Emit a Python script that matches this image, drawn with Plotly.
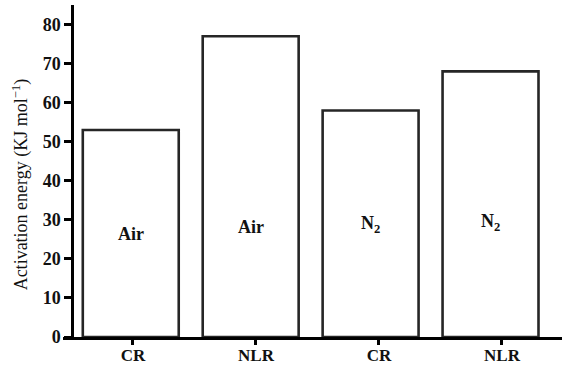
import plotly.graph_objects as go

# Sample / atmosphere groups and their activation energies (kJ/mol)
categories = ["CR", "NLR", "CR", "NLR"]
atmospheres = ["Air", "Air", "N<sub>2</sub>", "N<sub>2</sub>"]
activation_energy = [53, 77, 58, 68]
y_ticks = [0, 10, 20, 30, 40, 50, 60, 70, 80]

positions = list(range(len(categories)))
# vertical placement of the atmosphere label inside each bar (data units)
label_y = [26.3, 28.2, 28.7, 29.2]

SERIF = "Liberation Serif, Times New Roman, serif"
INK = "#111111"

fig = go.Figure()

fig.add_trace(go.Bar(
    x=positions,
    y=activation_energy,
    width=0.8,
    marker=dict(color="white", line=dict(color="#262626", width=2.6)),
    showlegend=False,
    hoverinfo="skip",
))

# carrier trace for the labelled category axis
fig.add_trace(go.Scatter(
    x=positions,
    y=[0] * len(positions),
    xaxis="x2",
    mode="markers",
    marker=dict(opacity=0),
    showlegend=False,
    hoverinfo="skip",
))

for xi, yi, txt in zip(positions, label_y, atmospheres):
    fig.add_annotation(
        x=xi, y=yi, xref="x", yref="y", text=txt, showarrow=False,
        font=dict(family=SERIF, size=18, color=INK, weight="bold"),
    )

fig.add_annotation(
    x=-0.084, y=0.46, xref="paper", yref="paper",
    text="Activation energy (KJ mol<sup>\u22121</sup>)",
    textangle=-90, showarrow=False, xanchor="center", yanchor="middle",
    font=dict(family=SERIF, size=18, color=INK),
)

fig.update_layout(
    width=562,
    height=368,
    margin=dict(l=63, r=0, t=5, b=31, autoexpand=False),
    paper_bgcolor="white",
    plot_bgcolor="white",
    bargap=0.2,
    xaxis=dict(
        range=[-0.565, 3.596],
        showticklabels=False,
        ticks="",
        showgrid=False,
        zeroline=False,
        showline=True,
        linecolor="black",
        linewidth=2.5,
        automargin=False,
    ),
    xaxis2=dict(
        overlaying="x",
        anchor="y",
        side="bottom",
        range=[-0.569, 3.488],
        tickvals=positions,
        ticktext=categories,
        ticks="outside",
        ticklen=7,
        tickwidth=2.5,
        tickcolor="black",
        ticklabelstandoff=-4,
        showgrid=False,
        zeroline=False,
        showline=False,
        automargin=False,
        tickfont=dict(family=SERIF, size=17, color=INK, weight="bold"),
    ),
    yaxis=dict(
        range=[0, 85],
        anchor="free",
        position=0.018,
        tickvals=y_ticks,
        ticks="outside",
        ticklen=7,
        tickwidth=2.5,
        tickcolor="black",
        showgrid=False,
        zeroline=False,
        showline=True,
        linecolor="black",
        linewidth=2.5,
        automargin=False,
        tickfont=dict(family=SERIF, size=18, color=INK, weight="bold"),
    ),
)

fig.write_html("out.html")
